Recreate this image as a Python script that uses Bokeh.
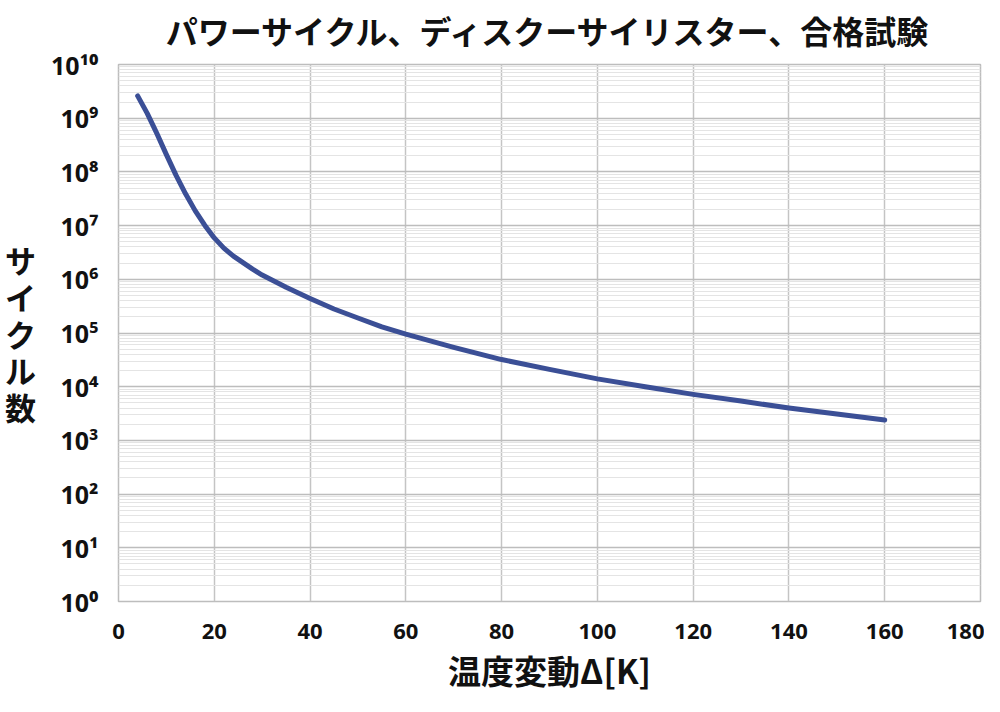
from bokeh.plotting import figure
from bokeh.models import (FixedTicker, Range1d, ColumnDataSource, CustomJSTickFormatter,
                          LinearAxis)
from bokeh.embed import file_html
from bokeh.resources import INLINE

# Data
delta_k = [4, 6, 8, 10, 12, 14, 16, 18, 20, 22, 24, 26, 28, 30, 35, 40, 45,
           50, 55, 60, 70, 80, 90, 100, 110, 120, 130, 140, 150, 160]
cycles = [2.6e9, 1.23e9, 5.2e8, 2.1e8, 8.7e7, 3.9e7, 1.9e7, 1.02e7, 5.9e6,
          3.8e6, 2.7e6, 2.05e6, 1.55e6, 1.2e6, 7.1e5, 4.4e5, 2.8e5, 1.9e5,
          1.3e5, 9.5e4, 5.4e4, 3.2e4, 2.1e4, 1.4e4, 1.0e4, 7.2e3, 5.4e3,
          4.0e3, 3.1e3, 2.4e3]
x_ticks = [0, 20, 40, 60, 80, 100, 120, 140, 160, 180]
y_exponents = list(range(0, 11))

title_text = "パワーサイクル、ディスクーサイリスター、合格試験"
x_label = "温度変動Δ[K]"
y_label = "サ\nイ\nク\nル\n数"

y_major = [10.0 ** e for e in y_exponents]
y_minor = [m * 10.0 ** e for e in y_exponents[:-1] for m in range(2, 10)]

p = figure(width=984, height=696, output_backend="svg", toolbar_location=None,
           y_axis_type="log", x_range=Range1d(0, 180), y_range=Range1d(1, 1e10),
           min_border_left=118, min_border_right=4, min_border_top=64,
           min_border_bottom=94, title_location=None)

# chart title drawn as the label of a tick-less axis above the frame
title_axis = LinearAxis(ticker=FixedTicker(ticks=[]), axis_label=title_text)
title_axis.axis_line_color = None
title_axis.major_tick_line_color = None
title_axis.minor_tick_line_color = None
title_axis.major_tick_out = 0
title_axis.minor_tick_out = 0
title_axis.major_tick_in = 0
title_axis.minor_tick_in = 0
title_axis.major_label_standoff = 0
title_axis.major_label_text_font_size = "1px"
title_axis.axis_label_standoff = 12
title_axis.axis_label_text_font = "Noto Sans CJK JP"
title_axis.axis_label_text_font_style = "bold"
title_axis.axis_label_text_font_size = "32px"
title_axis.axis_label_text_line_height = 1.0
title_axis.axis_label_text_color = "#111111"
p.add_layout(title_axis, "above")

src = ColumnDataSource(dict(x=delta_k, y=cycles))
p.line("x", "y", source=src, line_color="#3b4f96", line_width=5,
       line_join="round", line_cap="round")

p.yaxis.ticker = FixedTicker(ticks=y_major, minor_ticks=y_minor)
p.yaxis.formatter = CustomJSTickFormatter(code="""
const sup = {'0':'\u2070','1':'\u00b9','2':'\u00b2','3':'\u00b3','4':'\u2074',
             '5':'\u2075','6':'\u2076','7':'\u2077','8':'\u2078','9':'\u2079'};
const e = Math.round(Math.log10(tick)).toString();
return '10' + e.split('').map(c => sup[c]).join('');
""")

bottom_axis = p.below[0]
for ax in (bottom_axis, p.yaxis[0]):
    ax.axis_line_color = None
    ax.major_tick_line_color = None
    ax.minor_tick_line_color = None
    ax.major_label_text_font = "Open Sans"
    ax.major_label_text_font_style = "bold"
    ax.major_label_text_color = "#111111"

bottom_axis.ticker = FixedTicker(ticks=x_ticks)
bottom_axis.major_label_text_font_size = "22px"
p.yaxis.major_label_text_font_size = "25px"
bottom_axis.major_label_standoff = 16
p.yaxis.major_label_standoff = 14

bottom_axis.axis_label = x_label
bottom_axis.axis_label_text_font = "Noto Sans CJK JP"
bottom_axis.axis_label_text_font_style = "bold"
bottom_axis.axis_label_text_font_size = "33px"
bottom_axis.axis_label_text_color = "#111111"
bottom_axis.axis_label_standoff = 4

p.yaxis.axis_label = y_label
p.yaxis.axis_label_orientation = "horizontal"
p.yaxis.axis_label_text_font = "Noto Sans CJK JP"
p.yaxis.axis_label_text_font_style = "bold"
p.yaxis.axis_label_text_font_size = "31px"
p.yaxis.axis_label_text_line_height = 0.82
p.yaxis.axis_label_text_color = "#111111"
p.yaxis.axis_label_standoff = 12

p.xgrid.grid_line_color = "#c4c4c4"
p.xgrid.grid_line_width = 1.5
p.ygrid.grid_line_color = "#bdbdbd"
p.ygrid.grid_line_width = 1.5
p.ygrid.minor_grid_line_color = "#e4e4e4"
p.ygrid.minor_grid_line_width = 1.2

p.outline_line_color = "#bdbdbd"
p.outline_line_width = 1.5
p.background_fill_color = "white"
p.border_fill_color = "white"

open("out.html", "w").write(file_html(p, INLINE))
